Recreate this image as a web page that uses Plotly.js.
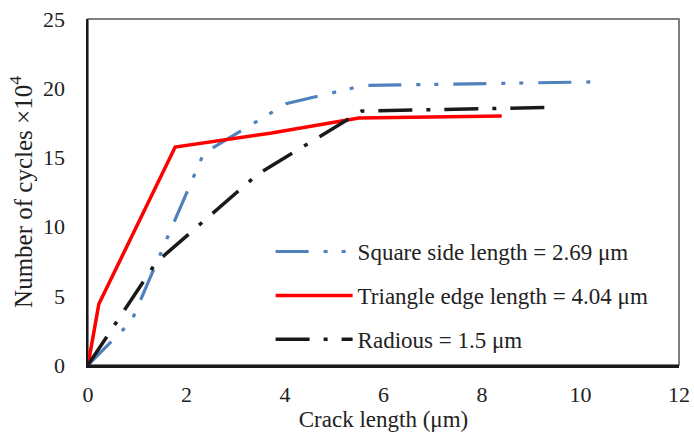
<!DOCTYPE html>
<html>
<head>
<meta charset="utf-8">
<script src="https://cdn.plot.ly/plotly-3.0.1.min.js"></script>
<style>html,body{margin:0;padding:0;background:#fff;}#chart{width:694px;height:442px;}</style>
</head>
<body>
<div id="chart"></div>
<script>
// Data
const squareX = [0, 0.88, 2.35, 4.04, 5.6, 10.2];
const squareY = [0, 3.15, 15.3, 18.9, 20.2, 20.45];
const triangleX = [0, 0.22, 1.77, 3.7, 5.5, 8.4];
const triangleY = [0, 4.4, 15.75, 16.75, 17.85, 18.0];
const radiusX = [0, 1.38, 3.45, 5.56, 9.3];
const radiusY = [0, 7.4, 13.8, 18.35, 18.6];
const seriesNames = ["Square side length = 2.69 μm", "Triangle edge length = 4.04 μm", "Radious = 1.5 μm"];
const xTicks = [0, 2, 4, 6, 8, 10, 12];
const yTicks = [0, 5, 10, 15, 20, 25];

const font = "Liberation Serif";

const traces = [
  {x: squareX, y: squareY, name: seriesNames[0], mode: 'lines', legendgroup: 'a',
   line: {color: '#4f81bd', width: 3.2, dash: '33px,15px,4px,14px,4px,15px'}},
  {x: triangleX, y: triangleY, name: seriesNames[1], mode: 'lines', legendgroup: 'b',
   line: {color: '#ff0000', width: 3.5}},
  {x: radiusX, y: radiusY, name: seriesNames[2], mode: 'lines', legendgroup: 'c',
   line: {color: '#1a1a1a', width: 3.5, dash: '34px,14px,4px,14px'}}
];

const layout = {
  width: 694, height: 442,
  margin: {l: 88, r: 15, t: 19, b: 77},
  paper_bgcolor: '#fff', plot_bgcolor: '#fff',
  font: {family: font, size: 22, color: '#222'},
  showlegend: true,
  legend: {x: 0.309, y: 0.39, xanchor: 'left', yanchor: 'top', bgcolor: 'rgba(0,0,0,0)',
           font: {family: font, size: 23, color: '#222'}, tracegroupgap: 11, itemwidth: 77},
  xaxis: {range: [0, 12], tickvals: xTicks, ticktext: xTicks.map(String), showgrid: false, zeroline: false,
          showline: true, linecolor: '#1a1a1a', linewidth: 2.5, ticks: '', ticklabelstandoff: 8,
          title: {text: 'Crack length (μm)', font: {family: font, size: 23, color: '#222'}, standoff: 2}},
  yaxis: {range: [0, 25], tickvals: yTicks, ticktext: yTicks.map(String), showgrid: false, zeroline: false,
          showline: true, linecolor: '#1a1a1a', linewidth: 2.5, ticks: '', ticklabelstandoff: 16,
          title: {text: 'Number of cycles ×10<sup>4</sup>', font: {family: font, size: 25, color: '#222'}, standoff: 4}},
  shapes: [{type: 'rect', xref: 'paper', yref: 'paper', x0: 0, x1: 1, y0: 0, y1: 1,
            line: {color: '#555', width: 1.5}, layer: 'below'}]
};

Plotly.newPlot('chart', traces, layout, {displayModeBar: false, staticPlot: true});
</script>
</body>
</html>
